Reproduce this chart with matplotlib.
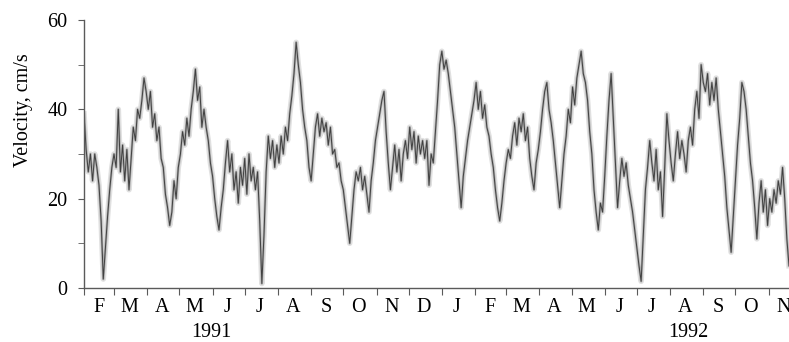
import pandas as pd
import matplotlib.pyplot as plt
import matplotlib.dates as mdates
from matplotlib.ticker import FuncFormatter, MultipleLocator

plt.rcParams['font.family'] = 'Liberation Serif'

# velocity readings, one every 2 days starting 1 Feb 1991
vel = [39, 31, 26, 30, 24, 30, 27, 23, 15, 2,
       9, 16, 22, 27, 30, 27, 40, 26, 32, 24,
       31, 22, 29, 36, 33, 40, 38, 42, 47, 44,
       40, 44, 36, 39, 33, 36, 29, 27, 21, 18,
       14, 17, 24, 20, 27, 30, 35, 32, 38, 34,
       40, 44, 49, 42, 45, 36, 40, 36, 33, 28,
       25, 20, 16, 13, 18, 22, 28, 33, 26, 30,
       22, 26, 19, 27, 23, 29, 21, 30, 24, 27,
       22, 26, 15, 1, 12, 26, 34, 29, 33, 27,
       32, 28, 34, 30, 36, 33, 39, 43, 48, 55,
       50, 46, 40, 36, 33, 27, 24, 30, 36, 39,
       34, 38, 35, 37, 32, 36, 30, 31, 27, 28,
       24, 22, 18, 14, 10, 16, 22, 26, 24, 27,
       22, 25, 21, 17, 24, 28, 33, 36, 39, 42,
       44, 35, 28, 22, 27, 32, 26, 31, 24, 30,
       33, 29, 36, 31, 35, 28, 34, 30, 33, 29,
       33, 23, 30, 28, 35, 42, 50, 53, 49, 51,
       48, 44, 40, 36, 30, 24, 18, 25, 29, 33,
       36, 39, 42, 46, 40, 44, 38, 41, 36, 34,
       30, 27, 22, 18, 15, 19, 24, 28, 31, 29,
       34, 37, 32, 38, 35, 39, 33, 36, 29, 25,
       22, 28, 31, 35, 40, 44, 46, 40, 37, 33,
       28, 23, 18, 24, 30, 34, 40, 37, 45, 41,
       47, 50, 53, 48, 46, 42, 35, 30, 22, 17,
       13, 19, 17, 25, 34, 42, 48, 38, 28, 18,
       24, 29, 25, 28, 23, 20, 17, 13, 9, 5,
       1.5, 12, 22, 27, 33, 28, 24, 31, 22, 26,
       16, 27, 39, 33, 28, 24, 30, 35, 29, 33,
       30, 26, 33, 36, 32, 40, 44, 38, 50, 46,
       44, 48, 41, 46, 42, 47, 40, 35, 30, 25,
       18, 13, 8, 16, 24, 32, 38, 46, 44, 40,
       34, 28, 24, 18, 11, 19, 24, 17, 22, 14,
       20, 17, 22, 19, 24, 21, 27, 20, 11, 5]
days = pd.date_range('1991-02-01', periods=len(vel), freq='2D')

years = ['1991', '1992']
year_pos = pd.to_datetime(['1991-05-31', '1992-08-18'])

fig = plt.figure(figsize=(7.89, 3.42), dpi=100)
ax = fig.add_axes([84/789, 54/342, 705/789, 268/342])

ax.plot(days, vel, color='#a8a8a8', lw=4.0, alpha=0.35, solid_joinstyle='round')
ax.plot(days, vel, color='#8a8a8a', lw=1.8, alpha=0.6)
ax.plot(days, vel, color='#404040', lw=0.7)

ax.set_xlim(days[0], days[-1])
ax.set_ylim(0, 60)

ax.spines['top'].set_visible(False)
ax.spines['right'].set_visible(False)
for s in ['left', 'bottom']:
    ax.spines[s].set_color('#5a5a5a')
    ax.spines[s].set_linewidth(1.0)

ax.yaxis.set_major_locator(MultipleLocator(20))
ax.yaxis.set_minor_locator(MultipleLocator(10))
ax.tick_params(axis='y', which='both', length=4, color='#5a5a5a', labelsize=14.5, pad=8)

ax.xaxis.set_major_locator(mdates.MonthLocator())
ax.xaxis.set_major_formatter(FuncFormatter(lambda x, p: ''))
ax.xaxis.set_minor_locator(mdates.MonthLocator(bymonthday=15))
ax.xaxis.set_minor_formatter(FuncFormatter(lambda x, p: mdates.num2date(x).strftime('%b')[0]))
ax.tick_params(axis='x', which='major', length=5, color='#5a5a5a')
ax.tick_params(axis='x', which='minor', length=0, labelsize=14.5, pad=7)

ax.set_ylabel('Velocity, cm/s', fontsize=14.5)
ax.yaxis.set_label_coords(-0.072, 0.664)

for yr, xp in zip(years, year_pos):
    ax.text(xp, -0.165, yr, transform=ax.get_xaxis_transform(), ha='center', va='center', fontsize=14.5)

plt.savefig('out.png', dpi=100)
